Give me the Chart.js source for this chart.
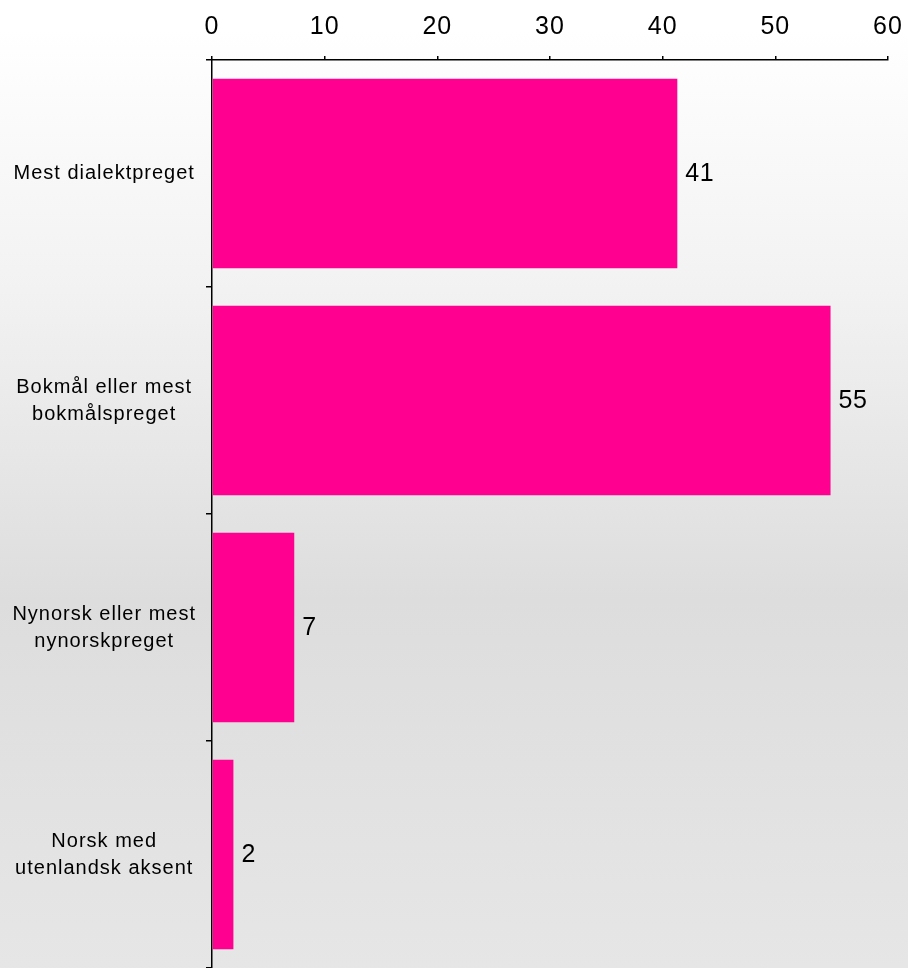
<!DOCTYPE html>
<html>
<head>
<meta charset="utf-8">
<script src="https://cdn.jsdelivr.net/npm/chart.js@4"></script>
<style>
  html, body { margin: 0; padding: 0; width: 908px; height: 968px; overflow: hidden; }
  body { background: linear-gradient(to bottom, #ffffff 0%, #ffffff 3%, #f2f2f2 30%, #dddddd 62%, #e6e6e6 100%); }
  #wrap { position: relative; width: 908px; height: 968px; }
</style>
</head>
<body>
<div id="wrap"><canvas id="c"></canvas></div>
<script>
const categories = [
  ["Mest dialektpreget"],
  ["Bokmål eller mest", "bokmålspreget"],
  ["Nynorsk eller mest", "nynorskpreget"],
  ["Norsk med", "utenlandsk aksent"]
];
const values = [41.3, 54.9, 7.3, 1.9];
const xTicks = [0, 10, 20, 30, 40, 50, 60];

const FONT = "'Liberation Sans', Arial, sans-serif";

const spacingPlugin = {
  id: 'spacing',
  beforeDraw(chart) { chart.ctx.letterSpacing = '1px'; },
  afterDraw(chart) { chart.ctx.letterSpacing = '0px'; }
};

const labelPlugin = {
  id: 'barLabels',
  afterDatasetsDraw(chart) {
    const ctx = chart.ctx;
    const meta = chart.getDatasetMeta(0);
    ctx.save();
    ctx.letterSpacing = '0.5px';
    ctx.font = "25px " + FONT;
    ctx.fillStyle = '#000';
    ctx.textAlign = 'left';
    ctx.textBaseline = 'middle';
    meta.data.forEach((bar, i) => {
      ctx.fillText(String(Math.round(values[i])), bar.x + 8, bar.y + 1);
    });
    ctx.restore();
  }
};

new Chart(document.getElementById('c'), {
  type: 'bar',
  data: {
    labels: categories,
    datasets: [{
      data: values,
      backgroundColor: '#ff0090',
      borderWidth: 0,
      barPercentage: 0.835,
      categoryPercentage: 1.0
    }]
  },
  options: {
    indexAxis: 'y',
    responsive: true,
    maintainAspectRatio: false,
    animation: false,
    devicePixelRatio: 1,
    layout: { padding: { left: 0, right: 20, top: 0, bottom: 0 } },
    plugins: { legend: { display: false }, tooltip: { enabled: false } },
    scales: {
      x: {
        position: 'top',
        min: 0, max: 60,
        afterBuildTicks(scale) { scale.ticks = xTicks.map(v => ({ value: v })); },
        afterFit(scale) { scale.height = 60; scale.paddingLeft = 0; scale.paddingRight = 0; },
        border: { display: true, color: '#000', width: 1.5 },
        grid: { display: true, drawOnChartArea: false, drawTicks: true, tickLength: 4, color: '#000', lineWidth: 1.5 },
        ticks: {
          color: '#000',
          font: { family: FONT, size: 25 },
          padding: 14,
          maxRotation: 0
        }
      },
      y: {
        position: 'left',
        afterFit(scale) { scale.width = 212; scale.paddingTop = 0; scale.paddingBottom = 0; },
        border: { display: true, color: '#000', width: 1.5 },
        grid: { display: true, offset: true, drawOnChartArea: false, drawTicks: true, tickLength: 6, color: '#000', lineWidth: 1.5 },
        ticks: {
          color: '#000',
          crossAlign: 'center',
          font: { family: FONT, size: 20, lineHeight: 1.35 },
          padding: 19
        }
      }
    }
  },
  plugins: [spacingPlugin, labelPlugin]
});
</script>
</body>
</html>
